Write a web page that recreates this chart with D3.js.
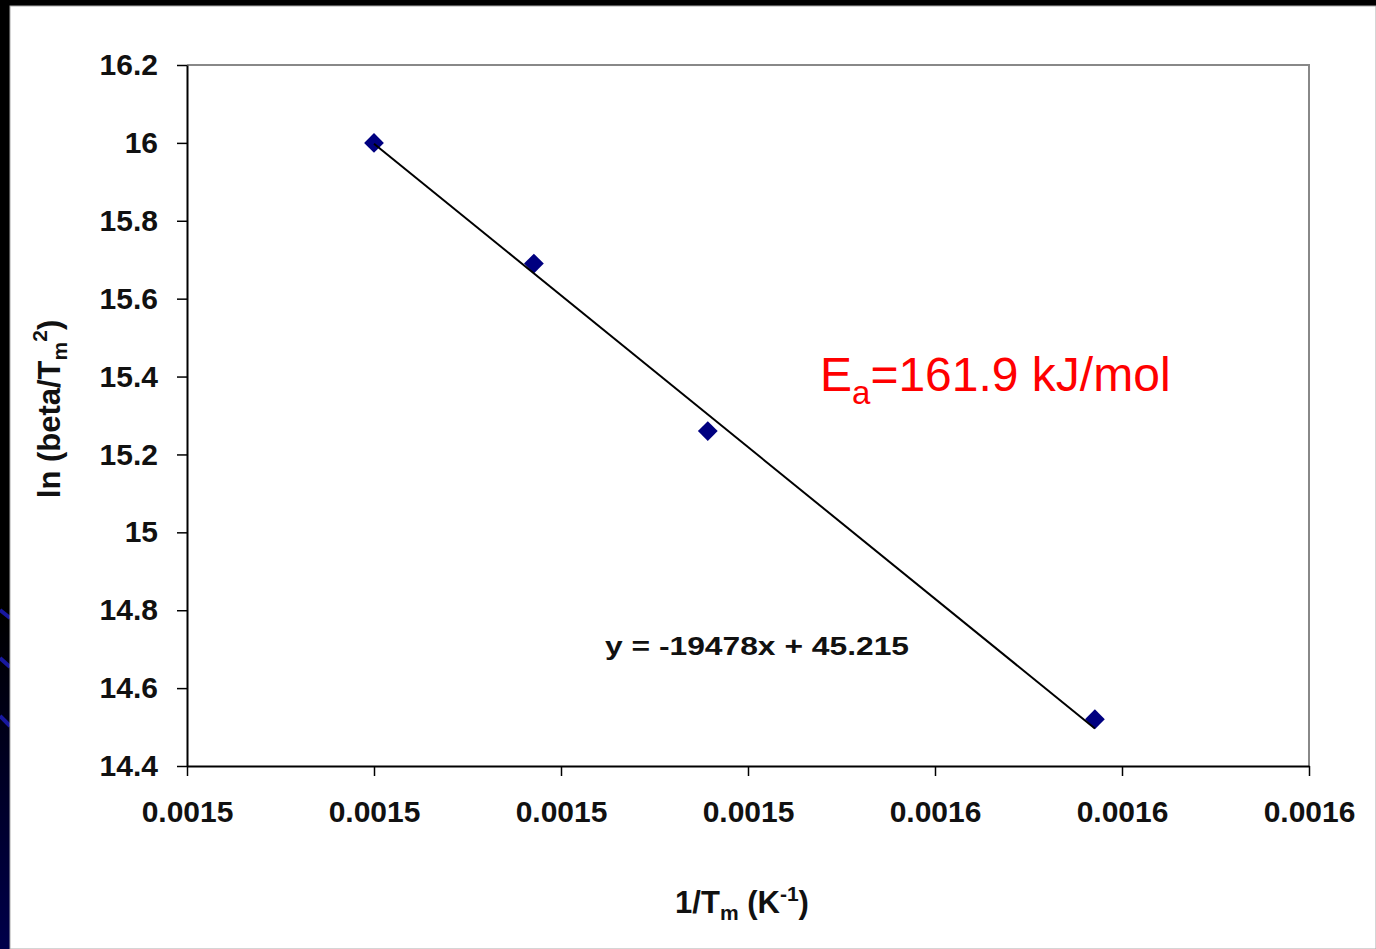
<!DOCTYPE html>
<html lang="en">
<head>
<meta charset="utf-8">
<title>ln(beta/Tm^2) vs 1/Tm</title>
<script src="https://d3js.org/d3.v7.min.js"></script>
<style>
  html, body { margin: 0; padding: 0; background: #000; }
  svg text { font-family: "Liberation Sans", Arial, sans-serif; }
</style>
</head>
<body>
<svg id="chart" width="1376" height="949"></svg>
<script>
// data
var invTm = [0.0015, 0.0015171, 0.0015357, 0.0015771];
var lnBeta = [16.0, 15.69, 15.26, 14.52];
var xTicks = [0.00148, 0.0015, 0.00152, 0.00154, 0.00156, 0.00158, 0.0016];
var yTicks = [14.4, 14.6, 14.8, 15, 15.2, 15.4, 15.6, 15.8, 16, 16.2];
var fitSlope = -19478, fitIntercept = 45.215;

var svg = d3.select('#chart');

// slide background: black frame with blue streaks at lower left
var grad = svg.append('defs').append('linearGradient')
    .attr('id', 'side').attr('x1', 0).attr('y1', 0).attr('x2', 0).attr('y2', 1);
grad.append('stop').attr('offset', '0%').attr('stop-color', '#000');
grad.append('stop').attr('offset', '65%').attr('stop-color', '#000');
grad.append('stop').attr('offset', '100%').attr('stop-color', '#00004a');
svg.append('rect').attr('width', 1376).attr('height', 949).attr('fill', 'url(#side)');
[[610, 618], [658, 667], [716, 726]].forEach(function(s) {
  svg.append('line').attr('x1', 0).attr('y1', s[0]).attr('x2', 10).attr('y2', s[1])
    .attr('stroke', '#1818a0').attr('stroke-width', 4);
});
svg.append('rect').attr('x', 10).attr('y', 6).attr('width', 1366).attr('height', 943)
  .attr('fill', '#fff').attr('stroke', '#aaa').attr('stroke-width', 1);

var m = {left: 187, right: 1309, top: 65, bottom: 766};
var x = d3.scaleLinear().domain([0.00148, 0.0016]).range([m.left, m.right]);
var y = d3.scaleLinear().domain([14.4, 16.2]).range([m.bottom, m.top]);

// top/right frame in grey
svg.append('path')
  .attr('d', 'M' + m.left + ',' + m.top + 'H' + m.right + 'V' + m.bottom)
  .attr('fill', 'none').attr('stroke', '#888').attr('stroke-width', 2);

var xAxis = svg.append('g').attr('transform', 'translate(0,' + m.bottom + ')')
  .call(d3.axisBottom(x).tickValues(xTicks).tickSize(10).tickSizeOuter(0)
    .tickFormat(function(d) { return d.toFixed(4); }));
var yAxis = svg.append('g').attr('transform', 'translate(' + m.left + ',0)')
  .call(d3.axisLeft(y).tickValues(yTicks).tickSize(10).tickSizeOuter(0)
    .tickFormat(function(d) { return d3.format('')(+d.toFixed(1)); }));

[xAxis, yAxis].forEach(function(g) {
  g.selectAll('path').attr('stroke', '#000').attr('stroke-width', 2);
  g.selectAll('line').attr('stroke', '#000').attr('stroke-width', 1.5);
  g.selectAll('text').attr('fill', '#111').style('font-size', '30px')
    .style('font-weight', 'bold')
    .style('font-family', '"Liberation Sans", Arial, sans-serif');
});
xAxis.selectAll('text').attr('y', 56).attr('dy', 0);
yAxis.selectAll('text').attr('x', -29);

// markers
svg.append('g').selectAll('path').data(invTm).join('path')
  .attr('transform', function(d, i) { return 'translate(' + x(d) + ',' + y(lnBeta[i]) + ')'; })
  .attr('d', d3.symbol().type(d3.symbolDiamond2).size(250))
  .attr('fill', '#000080');

// linear trend line
var xs = d3.extent(invTm);
svg.append('line')
  .attr('x1', x(xs[0])).attr('y1', y(fitSlope * xs[0] + fitIntercept))
  .attr('x2', x(xs[1])).attr('y2', y(fitSlope * xs[1] + fitIntercept))
  .attr('stroke', '#000').attr('stroke-width', 2);

// equation
svg.append('text').attr('x', 605).attr('y', 655)
  .attr('textLength', 304).attr('lengthAdjust', 'spacingAndGlyphs')
  .attr('fill', '#111')
  .style('font-size', '26px').style('font-weight', 'bold')
  .text('y = -19478x + 45.215');

// activation energy label
var ea = svg.append('text').attr('x', 820).attr('y', 391)
  .attr('fill', '#ff0000').style('font-size', '48px');
ea.append('tspan').text('E');
ea.append('tspan').attr('dy', 13).style('font-size', '33px').text('a');
ea.append('tspan').attr('dy', -13).text('=161.9 kJ/mol');

// axis titles
var xt = svg.append('text').attr('x', 742).attr('y', 913).attr('text-anchor', 'middle')
  .attr('fill', '#111')
  .style('font-size', '31px').style('font-weight', 'bold');
xt.append('tspan').text('1/T');
xt.append('tspan').attr('dy', 7).style('font-size', '21px').text('m');
xt.append('tspan').attr('dy', -7).text(' (K');
xt.append('tspan').attr('dy', -12).style('font-size', '21px').text('-1');
xt.append('tspan').attr('dy', 12).text(')');

var yt = svg.append('text').attr('transform', 'translate(60,409) rotate(-90)')
  .attr('text-anchor', 'middle').attr('fill', '#111')
  .style('font-size', '31px').style('font-weight', 'bold');
yt.append('tspan').text('ln (beta/T');
yt.append('tspan').attr('dy', 7).style('font-size', '21px').text('m');
yt.append('tspan').attr('dy', -20).style('font-size', '21px').text('2');
yt.append('tspan').attr('dy', 13).text(')');
</script>
</body>
</html>
